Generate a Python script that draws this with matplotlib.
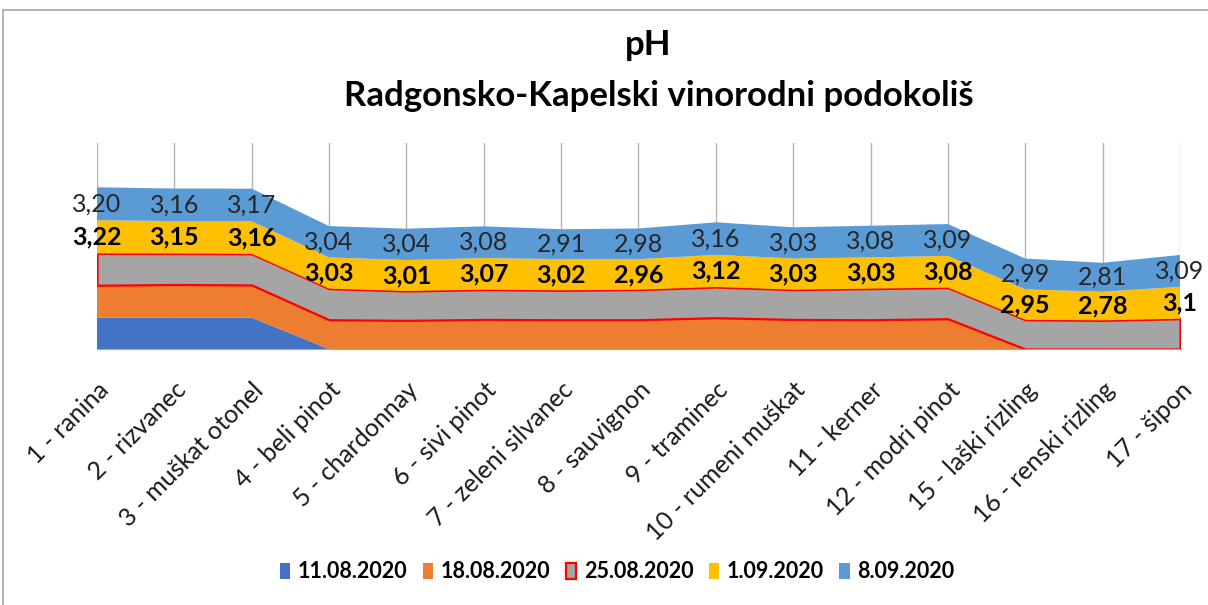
import numpy as np
import matplotlib
matplotlib.use('Agg')
import matplotlib.pyplot as plt
from matplotlib.patches import Rectangle

plt.rcParams['font.family'] = ['Lato', 'DejaVu Sans']

# sorte in datumi vzorčenja
sorte = ['1 - ranina', '2 - rizvanec', '3 - muškat otonel', '4 - beli pinot',
         '5 - chardonnay', '6 - sivi pinot', '7 - zeleni silvanec', '8 - sauvignon',
         '9 - traminec', '10 - rumeni muškat', '11 - kerner', '12 - modri pinot',
         '15 - laški rizling', '16 - renski rizling', '17 - šipon']
datumi = ['11.08.2020', '18.08.2020', '25.08.2020', '1.09.2020', '8.09.2020']

# pH vrednosti (odčitane s slike, kjer ni oznake)
ph_1108 = [3.05, 3.04, 3.04, 0, 0, 0, 0, 0, 0, 0, 0, 0, 0, 0, 0]
ph_1808 = [3.14, 3.22, 3.18, 2.84, 2.78, 2.87, 2.84, 2.84, 3.04, 2.87, 2.84, 2.94, 0, 0, 0]
ph_2508 = [3.09, 3.01, 3.02, 3.02, 2.85, 2.89, 2.86, 2.92, 2.98, 2.89, 3.02, 3.02, 2.84, 2.78, 2.94]
ph_0109 = [3.22, 3.15, 3.16, 3.03, 3.01, 3.07, 3.02, 2.96, 3.12, 3.03, 3.03, 3.08, 2.95, 2.78, 3.1]
ph_0809 = [3.20, 3.16, 3.17, 3.04, 3.04, 3.08, 2.91, 2.98, 3.16, 3.03, 3.08, 3.09, 2.99, 2.81, 3.09]

barve = ['#4472C4', '#ED7D31', '#A5A5A5', '#FFC000', '#5B9BD5']

fig = plt.figure(figsize=(12.08, 6.05), dpi=100)
ax = fig.add_axes([97/1208, 1 - 349/605, (1180 - 97)/1208, (349 - 143)/605])

x = np.arange(len(sorte))
vrste = [ph_1108, ph_1808, ph_2508, ph_0109, ph_0809]
polys = ax.stackplot(x, *vrste, colors=barve, labels=datumi, linewidth=0)
polys[2].set_edgecolor('#FF0000')
polys[2].set_linewidth(1.6)

cum = np.cumsum(np.array(vrste), axis=0)

# oznake podatkov
for i in x:
    v = ph_0109[i]
    ax.text(i, cum[2][i] + v / 2, ('%g' % v).replace('.', ','), ha='center', va='center',
            fontsize=18, fontweight='bold', color='black')
    v = ph_0809[i]
    ax.text(i, cum[3][i] + v / 2, ('%.2f' % v).replace('.', ','), ha='center', va='center',
            fontsize=18, color='#262626')

ax.set_xlim(0, len(sorte) - 1)
ax.set_ylim(0, 20)
ax.set_yticks([])
ax.set_xticks(x)
ax.set_xticklabels(sorte, fontsize=18, color='#1a1a1a')
plt.setp(ax.get_xticklabels(), rotation=45, ha='right', va='top', rotation_mode='anchor')
ax.tick_params(axis='x', length=0, pad=21)
ax.grid(axis='x', color='#B3B3B3', lw=1)
ax.set_axisbelow(True)
for s in ['top', 'left', 'right']:
    ax.spines[s].set_visible(False)
ax.spines['bottom'].set_color('#A6A6A6')

fig.text(648/1208, 1 - 45/605, 'pH', ha='center', va='center', fontsize=25, fontweight='bold')
fig.text(659/1208, 1 - 96/605, 'Radgonsko-Kapelski vinorodni podokoliš', ha='center', va='center',
         fontsize=25, fontweight='bold')

fig.legend(handles=polys, labels=datumi, loc='center', bbox_to_anchor=(617/1208, 1 - 572/605),
           ncol=5, frameon=False, prop={'weight': 'bold', 'size': 15.5},
           handlelength=0.5, handleheight=0.8, handletextpad=0.35, columnspacing=0.7)

# okvir grafikona
fig.add_artist(Rectangle((3/1208, -0.1), 1.2, 1.1 - 10/605, fill=False, edgecolor='#A6A6A6',
                         lw=1.2, transform=fig.transFigure))

fig.savefig('out.png', dpi=100)
